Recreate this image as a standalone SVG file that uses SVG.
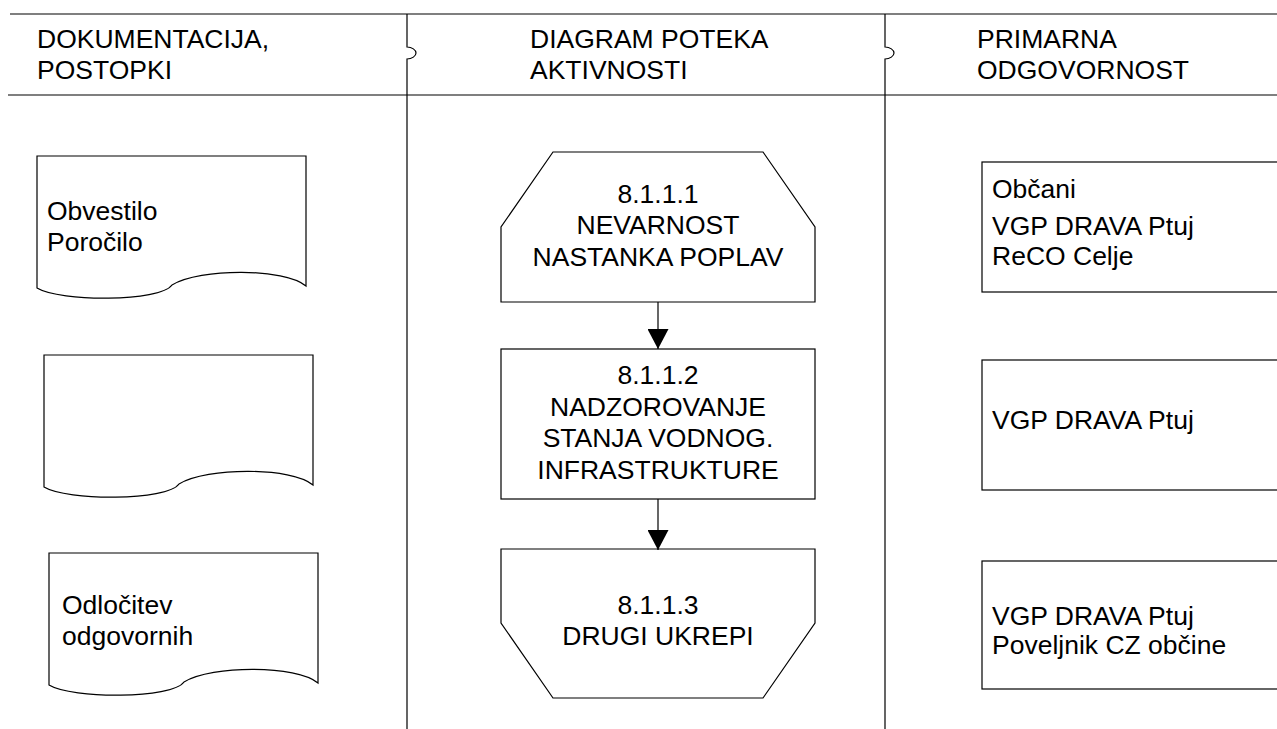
<svg xmlns="http://www.w3.org/2000/svg" width="1277" height="729" viewBox="0 0 1277 729">
  <defs>
    <style>
      .ln { fill: none; stroke: #000; stroke-width: 1.2; }
      .shape { fill: #fff; stroke: #000; stroke-width: 1.2; }
      .t { font-family: "Liberation Sans", Arial, sans-serif; font-size: 26.5px; fill: #000; }
      .c { text-anchor: middle; }
    </style>
    <marker id="arrow" viewBox="0 0 20 21" refX="20" refY="10.5" markerWidth="20" markerHeight="21" markerUnits="userSpaceOnUse" orient="auto">
      <path d="M0,0 L20,10.5 L0,21 Z" fill="#000"/>
    </marker>
    <path id="doc" d="M0,0 H269 V130 C248,112 163,112 135,129 C123,146 23,146 0,132 Z"/>
  </defs>
  <rect width="1277" height="729" fill="#fff"/>

  <g id="header">
    <path class="ln" d="M10,14 H1277"/>
    <path class="ln" d="M8,95 H1277"/>
    <path class="ln" d="M407,14 V47 C412,47 416,50 416,53 C416,56 412,59 407,59 V729"/>
    <path class="ln" d="M885,14 V47 C890,47 894,50 894,53 C894,56 890,59 885,59 V729"/>
    <text class="t" x="37" y="48">DOKUMENTACIJA,</text>
    <text class="t" x="37" y="79">POSTOPKI</text>
    <text class="t" x="530" y="48">DIAGRAM POTEKA</text>
    <text class="t" x="530" y="79">AKTIVNOSTI</text>
    <text class="t" x="977" y="48">PRIMARNA</text>
    <text class="t" x="977" y="79">ODGOVORNOST</text>
  </g>

  <g id="doc1">
    <use href="#doc" class="shape" x="37" y="156"/>
    <text class="t" x="47" y="220">Obvestilo</text>
    <text class="t" x="47" y="251">Poročilo</text>
  </g>
  <g id="doc2">
    <use href="#doc" class="shape" x="44" y="355"/>
  </g>
  <g id="doc3">
    <use href="#doc" class="shape" x="49" y="553"/>
    <text class="t" x="62" y="614">Odločitev</text>
    <text class="t" x="62" y="645">odgovornih</text>
  </g>

  <g id="step1">
    <path class="shape" d="M553,152 H763 L815,227 V302 H501 V227 Z"/>
    <text class="t c" x="658" y="203">8.1.1.1</text>
    <text class="t c" x="658" y="234">NEVARNOST</text>
    <text class="t c" x="658" y="266">NASTANKA POPLAV</text>
  </g>
  <g id="step2">
    <rect class="shape" x="501" y="349" width="314" height="150"/>
    <text class="t c" x="658" y="384">8.1.1.2</text>
    <text class="t c" x="658" y="416">NADZOROVANJE</text>
    <text class="t c" x="658" y="447">STANJA VODNOG.</text>
    <text class="t c" x="658" y="479">INFRASTRUKTURE</text>
  </g>
  <g id="step3">
    <path class="shape" d="M501,549 H815 V623 L763,698 H553 L501,623 Z"/>
    <text class="t c" x="658" y="614">8.1.1.3</text>
    <text class="t c" x="658" y="645">DRUGI UKREPI</text>
  </g>

  <g id="resp1">
    <rect class="shape" x="982" y="162" width="310" height="130"/>
    <text class="t" x="992" y="198">Občani</text>
    <text class="t" x="992" y="235">VGP DRAVA Ptuj</text>
    <text class="t" x="992" y="265">ReCO Celje</text>
  </g>
  <g id="resp2">
    <rect class="shape" x="982" y="360" width="310" height="130"/>
    <text class="t" x="992" y="429">VGP DRAVA Ptuj</text>
  </g>
  <g id="resp3">
    <rect class="shape" x="982" y="561" width="310" height="128"/>
    <text class="t" x="992" y="625">VGP DRAVA Ptuj</text>
    <text class="t" x="992" y="654">Poveljnik CZ občine</text>
  </g>

  <g id="connectors">
    <path class="ln" d="M658,302 V349" marker-end="url(#arrow)"/>
    <path class="ln" d="M658,499 V550" marker-end="url(#arrow)"/>
  </g>
</svg>
